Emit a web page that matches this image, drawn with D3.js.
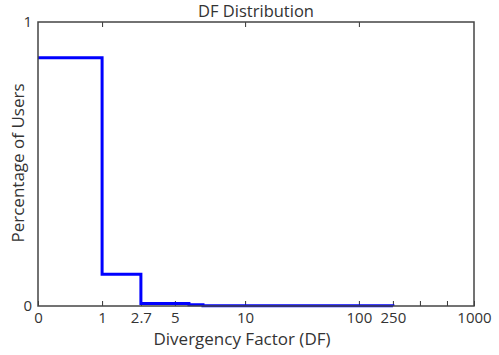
<!DOCTYPE html>
<html>
<head>
<meta charset="utf-8">
<script src="https://cdn.jsdelivr.net/npm/d3@7"></script>
<style>
  body { margin: 0; background: #fff; }
  text { font-family: "Open Sans", "Noto Sans", sans-serif; fill: #333; }
</style>
</head>
<body>
<svg id="chart" width="499" height="355"></svg>
<script>
// tick values on the DF axis (piecewise axis, labelled ticks + two blanks)
var xTickValues = [0, 1, 2.7, 5, 10, 100, 250, 500, 750, 1000];
var xTickLabels = ["0", "1", "2.7", "5", "10", "100", "250", "", "", "1000"];
var xTopTicks = [1, 10, 100];

// step edges and share of users in each step
var stepEdges = [0, 1, 2.7, 6, 7, 250];
var stepShare = [0.874, 0.112, 0.009, 0.004, 0.001];

var margin = {top: 22, right: 25, bottom: 49, left: 38};
var svg = d3.select("svg#chart");
var width = +svg.attr("width") - margin.left - margin.right;
var height = +svg.attr("height") - margin.top - margin.bottom;

// axis break points as fractions of the plot width
var xBreaks = [0, 1, 2.7, 5, 10, 100, 250, 1000];
var xFrac = [0, 0.147, 0.236, 0.314, 0.475, 0.736, 0.814, 1];

var x = d3.scaleLinear()
    .domain(xBreaks)
    .range(xFrac.map(function(f) { return f * width; }));

var y = d3.scaleLinear().domain([0, 1]).range([height, 0]);

var g = svg.append("g")
    .attr("transform", "translate(" + margin.left + "," + margin.top + ")");

// build step points
var pts = [];
stepShare.forEach(function(v, i) {
  pts.push([stepEdges[i], v]);
  pts.push([stepEdges[i + 1], v]);
});
pts.push([stepEdges[stepEdges.length - 1], 0]);

var line = d3.line()
    .x(function(d) { return x(d[0]); })
    .y(function(d) { return y(d[1]); });

// bottom axis ticks (inward)
g.append("g")
    .attr("transform", "translate(0," + height + ")")
    .call(d3.axisBottom(x).tickValues(xTickValues).tickSize(-5)
      .tickFormat(function(d, i) { return xTickLabels[i]; }))
    .call(function(a) {
      a.select(".domain").remove();
      a.selectAll("line").attr("stroke", "#333");
      a.selectAll("text").attr("dy", 0).attr("y", 17)
        .attr("font-size", "15px").attr("font-family", null);
    });

// top ticks
g.append("g")
    .call(d3.axisTop(x).tickValues(xTopTicks).tickSize(-5).tickFormat(""))
    .call(function(a) {
      a.select(".domain").remove();
      a.selectAll("line").attr("stroke", "#333");
    });

// y labels
g.append("g")
    .call(d3.axisLeft(y).tickValues([0, 1]).tickSize(0).tickFormat(d3.format("d")))
    .call(function(a) {
      a.select(".domain").remove();
      a.selectAll("text").attr("x", -6).attr("font-size", "15px").attr("font-family", null);
    });

// data line
g.append("path")
    .datum(pts)
    .attr("fill", "none")
    .attr("stroke", "#0000ff")
    .attr("stroke-width", 3)
    .attr("d", line);

// frame
g.append("rect")
    .attr("width", width)
    .attr("height", height)
    .attr("fill", "none")
    .attr("stroke", "#444")
    .attr("stroke-width", 1.5);

svg.append("text")
    .attr("x", 256)
    .attr("y", 17)
    .attr("text-anchor", "middle")
    .attr("font-size", "16.5px")
    .text("DF Distribution");

svg.append("text")
    .attr("x", 242)
    .attr("y", 345)
    .attr("text-anchor", "middle")
    .attr("font-size", "17px")
    .text("Divergency Factor (DF)");

svg.append("text")
    .attr("transform", "translate(24,163) rotate(-90)")
    .attr("text-anchor", "middle")
    .attr("font-size", "17px")
    .text("Percentage of Users");
</script>
</body>
</html>
